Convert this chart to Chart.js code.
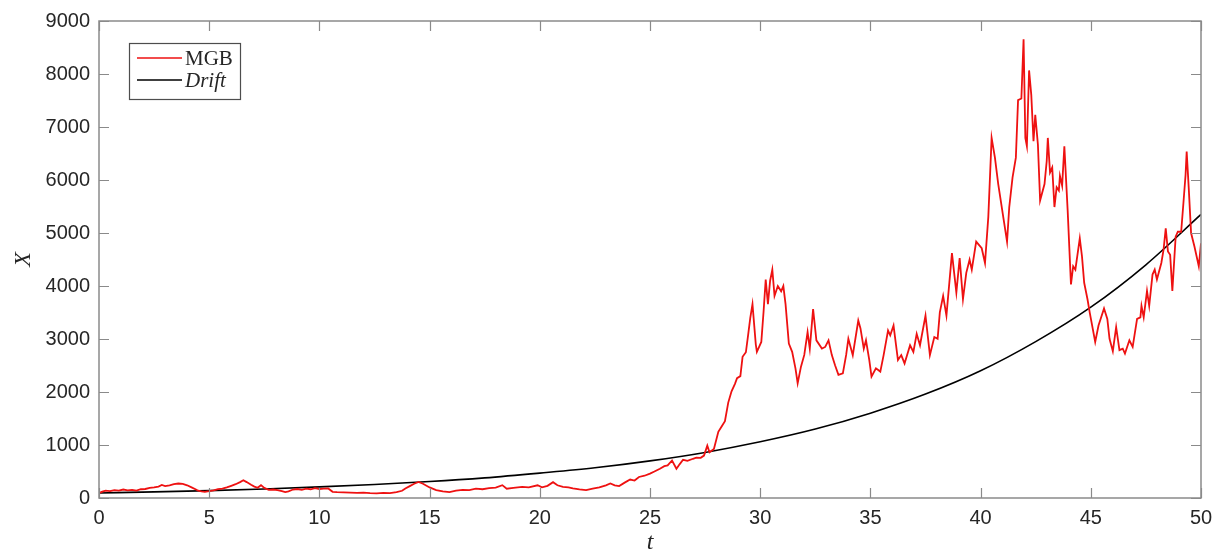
<!DOCTYPE html>
<html>
<head>
<meta charset="utf-8">
<title>MGB</title>
<script src="https://cdn.jsdelivr.net/npm/chart.js@4/dist/chart.umd.min.js"></script>
<style>
  html, body { margin: 0; padding: 0; background: #fff; }
  #plot { display: block; }
</style>
</head>
<body>
<canvas id="plot" width="1224" height="557"></canvas>
<script>
// simulated geometric Brownian motion path (t, X)
const mgbT = [
  0, 0.15, 0.3, 0.5, 0.7, 0.9, 1.1, 1.3, 1.5, 1.7, 1.9, 2.1, 2.3, 2.5, 2.7, 2.85,
  3.0, 3.2, 3.4, 3.6, 3.8, 4.0, 4.2, 4.4, 4.5, 4.65, 4.8, 5.0, 5.2, 5.4, 5.6, 5.8,
  6.0, 6.2, 6.4, 6.55, 6.7, 6.9, 7.05, 7.2, 7.35, 7.5, 7.7, 7.9, 8.1, 8.3, 8.45, 8.6,
  8.8, 9.0, 9.2, 9.4, 9.6, 9.8, 10.0, 10.2, 10.4, 10.6, 10.8, 11.1, 11.4, 11.7, 12.0, 12.3,
  12.6, 12.9, 13.2, 13.5, 13.75, 13.9, 14.1, 14.3, 14.5, 14.7, 15.0, 15.3, 15.6, 15.9, 16.2, 16.5,
  16.8, 17.1, 17.4, 17.7, 18.0, 18.3, 18.5, 18.8, 19.2, 19.5, 19.9, 20.1, 20.35, 20.6, 20.8, 21.05,
  21.3, 21.5, 21.8, 22.1, 22.4, 22.7, 23.0, 23.2, 23.4, 23.6, 23.85, 24.1, 24.3, 24.5, 24.75, 25.0,
  25.2, 25.45, 25.65, 25.8, 26.0, 26.2, 26.35, 26.5, 26.7, 26.95, 27.1, 27.3, 27.45, 27.6, 27.7, 27.9,
  28.1, 28.25, 28.4, 28.55, 28.7, 28.85, 28.95, 29.1, 29.2, 29.35, 29.45, 29.55, 29.65, 29.8, 29.85, 30.05,
  30.15, 30.25, 30.35, 30.45, 30.55, 30.65, 30.8, 30.95, 31.05, 31.15, 31.3, 31.45, 31.6, 31.7, 31.85, 32.0,
  32.15, 32.25, 32.4, 32.55, 32.8, 32.95, 33.1, 33.25, 33.4, 33.55, 33.75, 33.9, 34.0, 34.2, 34.45, 34.55,
  34.7, 34.8, 34.95, 35.05, 35.25, 35.45, 35.6, 35.8, 35.9, 36.05, 36.25, 36.4, 36.55, 36.8, 36.95, 37.1,
  37.25, 37.5, 37.7, 37.9, 38.05, 38.15, 38.3, 38.45, 38.7, 38.9, 39.05, 39.2, 39.35, 39.5, 39.6, 39.8,
  40.05, 40.2, 40.35, 40.5, 40.65, 40.8, 41.05, 41.2, 41.3, 41.45, 41.6, 41.7, 41.85, 41.95, 42.03, 42.1,
  42.2, 42.3, 42.4, 42.48, 42.6, 42.7, 42.9, 43.0, 43.05, 43.15, 43.25, 43.35, 43.45, 43.55, 43.6, 43.7,
  43.8, 43.95, 44.1, 44.2, 44.3, 44.5, 44.6, 44.7, 44.85, 44.95, 45.2, 45.35, 45.6, 45.75, 45.85, 46.0,
  46.15, 46.3, 46.45, 46.55, 46.75, 46.9, 47.1, 47.25, 47.3, 47.4, 47.55, 47.65, 47.8, 47.9, 48.0, 48.2,
  48.3, 48.4, 48.5, 48.6, 48.7, 48.85, 48.95, 49.1, 49.2, 49.3, 49.35, 49.45, 49.55, 49.7, 49.9, 50.0
];
const mgbX = [
  93, 120, 140, 130, 150, 140, 160, 145, 155, 140, 165, 170, 190, 200, 215, 245,
  225, 240, 260, 273, 265, 240, 200, 160, 137, 125, 117, 130, 145, 168, 175, 200,
  230, 260, 300, 335, 300, 250, 215, 192, 242, 190, 155, 160, 148, 130, 112, 125,
  160, 170, 155, 175, 165, 185, 170, 175, 180, 117, 110, 105, 100, 95, 100, 92,
  88, 98, 92, 110, 136, 180, 224, 270, 304, 270, 199, 150, 125, 112, 140, 155,
  150, 175, 165, 185, 195, 242, 175, 190, 211, 200, 240, 200, 230, 298, 240, 211,
  200, 180, 162, 149, 175, 199, 240, 273, 240, 224, 290, 348, 330, 397, 420, 460,
  500, 553, 600, 615, 708, 553, 640, 721, 700, 740, 760, 758, 800, 987, 863, 926,
  1250, 1350, 1450, 1800, 2012, 2150, 2260, 2300, 2664, 2750, 3068, 3400, 3657, 2900, 2757, 2944,
  3500, 4123, 3657, 4100, 4309, 3813, 3999, 3900, 3999, 3657, 2912, 2757, 2446, 2167, 2478, 2700,
  3130, 2819, 3564, 2975, 2819, 2850, 2975, 2696, 2500, 2323, 2353, 2700, 3005, 2696, 3348, 3200,
  2819, 2975, 2600, 2291, 2446, 2385, 2696, 3161, 3068, 3254, 2602, 2696, 2539, 2882, 2757, 3098,
  2882, 3441, 2696, 3037, 3005, 3502, 3813, 3441, 4620, 3875, 4527, 3750, 4248, 4496, 4309, 4838,
  4713, 4434, 5304, 6794, 6422, 5924, 5241, 4838, 5490, 6049, 6422, 7508, 7539, 8657, 6794, 6638,
  8067, 7601, 6731, 7228, 6669, 5613, 5924, 6359, 6794, 6142, 6235, 5490, 5863, 5800, 6079, 5893,
  6638, 5427, 4030, 4373, 4309, 4900, 4559, 4061, 3750, 3502, 2944, 3254, 3577, 3378, 3005, 2770,
  3223, 2789, 2819, 2726, 2975, 2850, 3378, 3409, 3627, 3409, 3907, 3627, 4216, 4309, 4123, 4434,
  4682, 5086, 4652, 4589, 3907, 4931, 5024, 5024, 5552, 6100, 6539, 5800, 5000, 4750, 4373, 4807
];

// deterministic drift curve, sampled every 2.5 time units
const driftT = [0, 2.5, 5, 7.5, 10, 12.5, 15, 17.5, 20, 22.5, 25, 27.5, 30, 32.5, 35, 37.5, 40, 42.5, 45, 47.5, 50];
const driftX = [95, 115, 140, 170, 210, 255, 310, 380, 470, 570, 700, 860, 1060, 1300, 1600, 1960, 2400, 2950, 3600, 4400, 5350];

const xTicks = [0, 5, 10, 15, 20, 25, 30, 35, 40, 45, 50];
const yTicks = [0, 1000, 2000, 3000, 4000, 5000, 6000, 7000, 8000, 9000];

const seriesLabels = ['MGB', 'Drift'];
const seriesColors = ['#ee1111', '#000000'];

const axisColor = '#8a8a8a';
const textColor = '#262626';

// box around the axes with ticks pointing inward on all four sides
const boxAxes = {
  id: 'boxAxes',
  afterDatasetsDraw(chart) {
    const { ctx, chartArea: a, scales } = chart;
    const len = 10;
    ctx.save();
    ctx.strokeStyle = axisColor;
    ctx.lineWidth = 1.5;
    ctx.strokeRect(a.left, a.top, a.right - a.left, a.bottom - a.top);
    ctx.lineWidth = 1.2;
    ctx.beginPath();
    xTicks.forEach((v) => {
      const px = Math.round(scales.x.getPixelForValue(v)) + 0.5;
      ctx.moveTo(px, a.bottom); ctx.lineTo(px, a.bottom - len);
      ctx.moveTo(px, a.top); ctx.lineTo(px, a.top + len);
    });
    yTicks.forEach((v) => {
      const py = Math.round(scales.y.getPixelForValue(v)) + 0.5;
      ctx.moveTo(a.left, py); ctx.lineTo(a.left + len, py);
      ctx.moveTo(a.right, py); ctx.lineTo(a.right - len, py);
    });
    ctx.stroke();
    ctx.restore();
  },
  afterDraw(chart) {
    // legend box in the upper left corner of the axes
    const { ctx } = chart;
    const bx = 129.5, by = 43.5, bw = 111, bh = 56;
    ctx.save();
    ctx.fillStyle = '#fff';
    ctx.fillRect(bx, by, bw, bh);
    ctx.strokeStyle = '#4d4d4d';
    ctx.lineWidth = 1.2;
    ctx.strokeRect(bx, by, bw, bh);
    const rows = [58, 80];
    chart.data.datasets.forEach((ds, i) => {
      ctx.strokeStyle = ds.borderColor;
      ctx.lineWidth = 1.6;
      ctx.beginPath();
      ctx.moveTo(137, rows[i]);
      ctx.lineTo(182, rows[i]);
      ctx.stroke();
      ctx.fillStyle = textColor;
      ctx.font = (i === 1 ? 'italic ' : '') + '21px "Liberation Serif", serif';
      ctx.textBaseline = 'middle';
      ctx.fillText(ds.label, 185, rows[i] + 1);
    });
    ctx.restore();
  }
};

const ctx = document.getElementById('plot').getContext('2d');
new Chart(ctx, {
  type: 'line',
  data: {
    datasets: [
      {
        label: seriesLabels[0],
        data: mgbT.map((t, i) => ({ x: t, y: mgbX[i] })),
        borderColor: seriesColors[0],
        borderWidth: 1.8,
        pointRadius: 0,
        tension: 0,
        fill: false
      },
      {
        label: seriesLabels[1],
        data: driftT.map((t, i) => ({ x: t, y: driftX[i] })),
        borderColor: seriesColors[1],
        borderWidth: 1.6,
        pointRadius: 0,
        cubicInterpolationMode: 'monotone',
        fill: false
      }
    ]
  },
  options: {
    responsive: false,
    animation: false,
    devicePixelRatio: 1,
    layout: { padding: { top: 15, right: 23, left: 0, bottom: 0 } },
    plugins: {
      legend: { display: false },
      tooltip: { enabled: false }
    },
    scales: {
      x: {
        type: 'linear',
        min: 0,
        max: 50,
        afterBuildTicks: (s) => { s.ticks = xTicks.map((v) => ({ value: v })); },
        afterFit: (s) => { s.height = 59; },
        grid: { display: false, drawTicks: false },
        border: { display: false },
        ticks: {
          color: textColor,
          font: { family: '"Liberation Sans", Arial, sans-serif', size: 20 },
          padding: 8,
          maxRotation: 0,
          callback: (v) => String(v)
        },
        title: {
          display: true,
          text: 't',
          color: textColor,
          font: { family: '"Liberation Serif", serif', size: 24, style: 'italic' },
          padding: { top: 0, bottom: 0 }
        }
      },
      y: {
        type: 'linear',
        min: 0,
        max: 9000,
        afterBuildTicks: (s) => { s.ticks = yTicks.map((v) => ({ value: v })); },
        afterFit: (s) => { s.width = 99; },
        grid: { display: false, drawTicks: false },
        border: { display: false },
        ticks: {
          color: textColor,
          font: { family: '"Liberation Sans", Arial, sans-serif', size: 20 },
          padding: 9,
          callback: (v) => String(v)
        },
        title: {
          display: true,
          text: 'X',
          color: textColor,
          font: { family: '"Liberation Serif", serif', size: 24, style: 'italic' },
          padding: { top: 9, bottom: 0 }
        }
      }
    }
  },
  plugins: [boxAxes]
});
</script>
</body>
</html>
